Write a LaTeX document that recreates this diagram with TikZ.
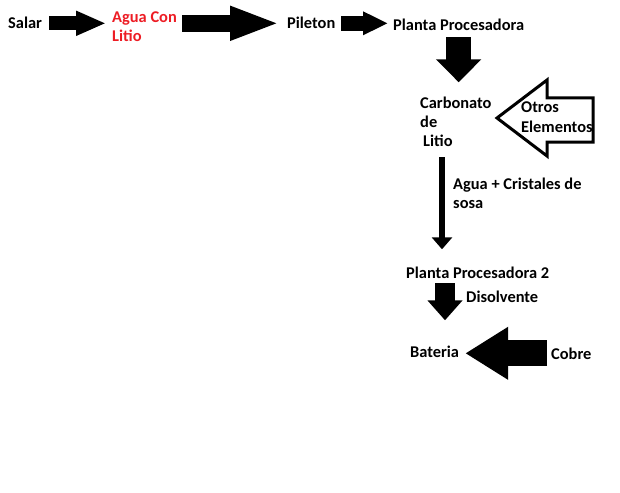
\documentclass[tikz,border=0pt]{standalone}
\usepackage{fontspec}
\setmainfont{Carlito}
\usepackage{tikz}
\usetikzlibrary{arrows.meta}
\definecolor{paintred}{RGB}{237,28,36}
\newcommand{\lablnode}[4]{\node[anchor=base west,inner sep=0pt,align=left,font=\bfseries\fontsize{16.4}{19}\selectfont] (#1) at ( #2 , #3 ) {#4};}
\newcommand{\fatarrow}[3]{\tikzset{#1/.style={line width=#2pt,-{Triangle[#3]}}}}
\fatarrow{fatA}{14}{length=30pt,width=23pt}
\fatarrow{fatB}{17}{length=50pt,width=31pt}
\fatarrow{fatC}{15}{length=25pt,width=22pt}
\fatarrow{fatD}{25}{length=23pt,width=44pt}
\fatarrow{thinE}{6}{length=12pt,width=20pt}
\fatarrow{fatF}{20}{length=20pt,width=34pt}
\fatarrow{fatG}{26}{length=43pt,width=50pt}

\begin{document}
\begin{tikzpicture}[x=1pt,y=-1pt]
        \useasboundingbox (0,0) rectangle (620,492);
        % row1
        \lablnode{salar}{8}{29}{Salar}
        \lablnode{agua}{112}{42}{\color{paintred}Agua Con\\\color{paintred}Litio}
        \lablnode{pileton}{287}{29}{Pileton}
        \lablnode{planta}{393}{31}{Planta Procesadora}

        % column (base = last line)
        \lablnode{carbonato}{420}{146}{Carbonato\\de\\\hspace{3pt}Litio}
        \lablnode{otros}{521}{132}{Otros\\[1pt]Elementos}
        \lablnode{cristales}{453}{208}{Agua + Cristales de\\sosa}
        \lablnode{planta2}{406}{278}{Planta Procesadora 2}
        \lablnode{disolvente}{466}{302}{Disolvente}
        \lablnode{bateria}{410}{357}{Bateria}
        \lablnode{cobre}{551}{359}{Cobre}

        % arrows row1
        \draw[fatA,shorten <=7pt,shorten >=6pt] (salar.east) -- (salar.east -| agua.west);
        \draw[fatB,shorten <=5pt,shorten >=7pt] (agua.east |- pileton.west) -- (pileton.west);
        \draw[fatC,shorten <=6pt,shorten >=5pt] (pileton.east) -- (pileton.east -| planta.west);

        % arrows column
        \draw[fatD,shorten <=6pt,shorten >=14pt] (planta.south) -- (planta.south |- carbonato.north);
        \draw[thinE,shorten <=11pt,shorten >=17pt] ([xshift=22pt]carbonato.south west) -- ([xshift=22pt]carbonato.south west |- planta2.north);
        \draw[fatF,shorten <=5pt,shorten >=25pt] ([xshift=39pt]planta2.south west) -- ([xshift=39pt]planta2.south west |- bateria.north);
        \draw[fatG,shorten <=4pt,shorten >=6pt] (cobre.west) -- (cobre.west -| bateria.east);

        % hollow arrow
        \draw[line width=3pt,line join=miter] (497,118) -- (547,80) -- (547,98) -- (593,98) -- (593,142) -- (547,142) -- (547,156) -- cycle;
\end{tikzpicture}
\end{document}
